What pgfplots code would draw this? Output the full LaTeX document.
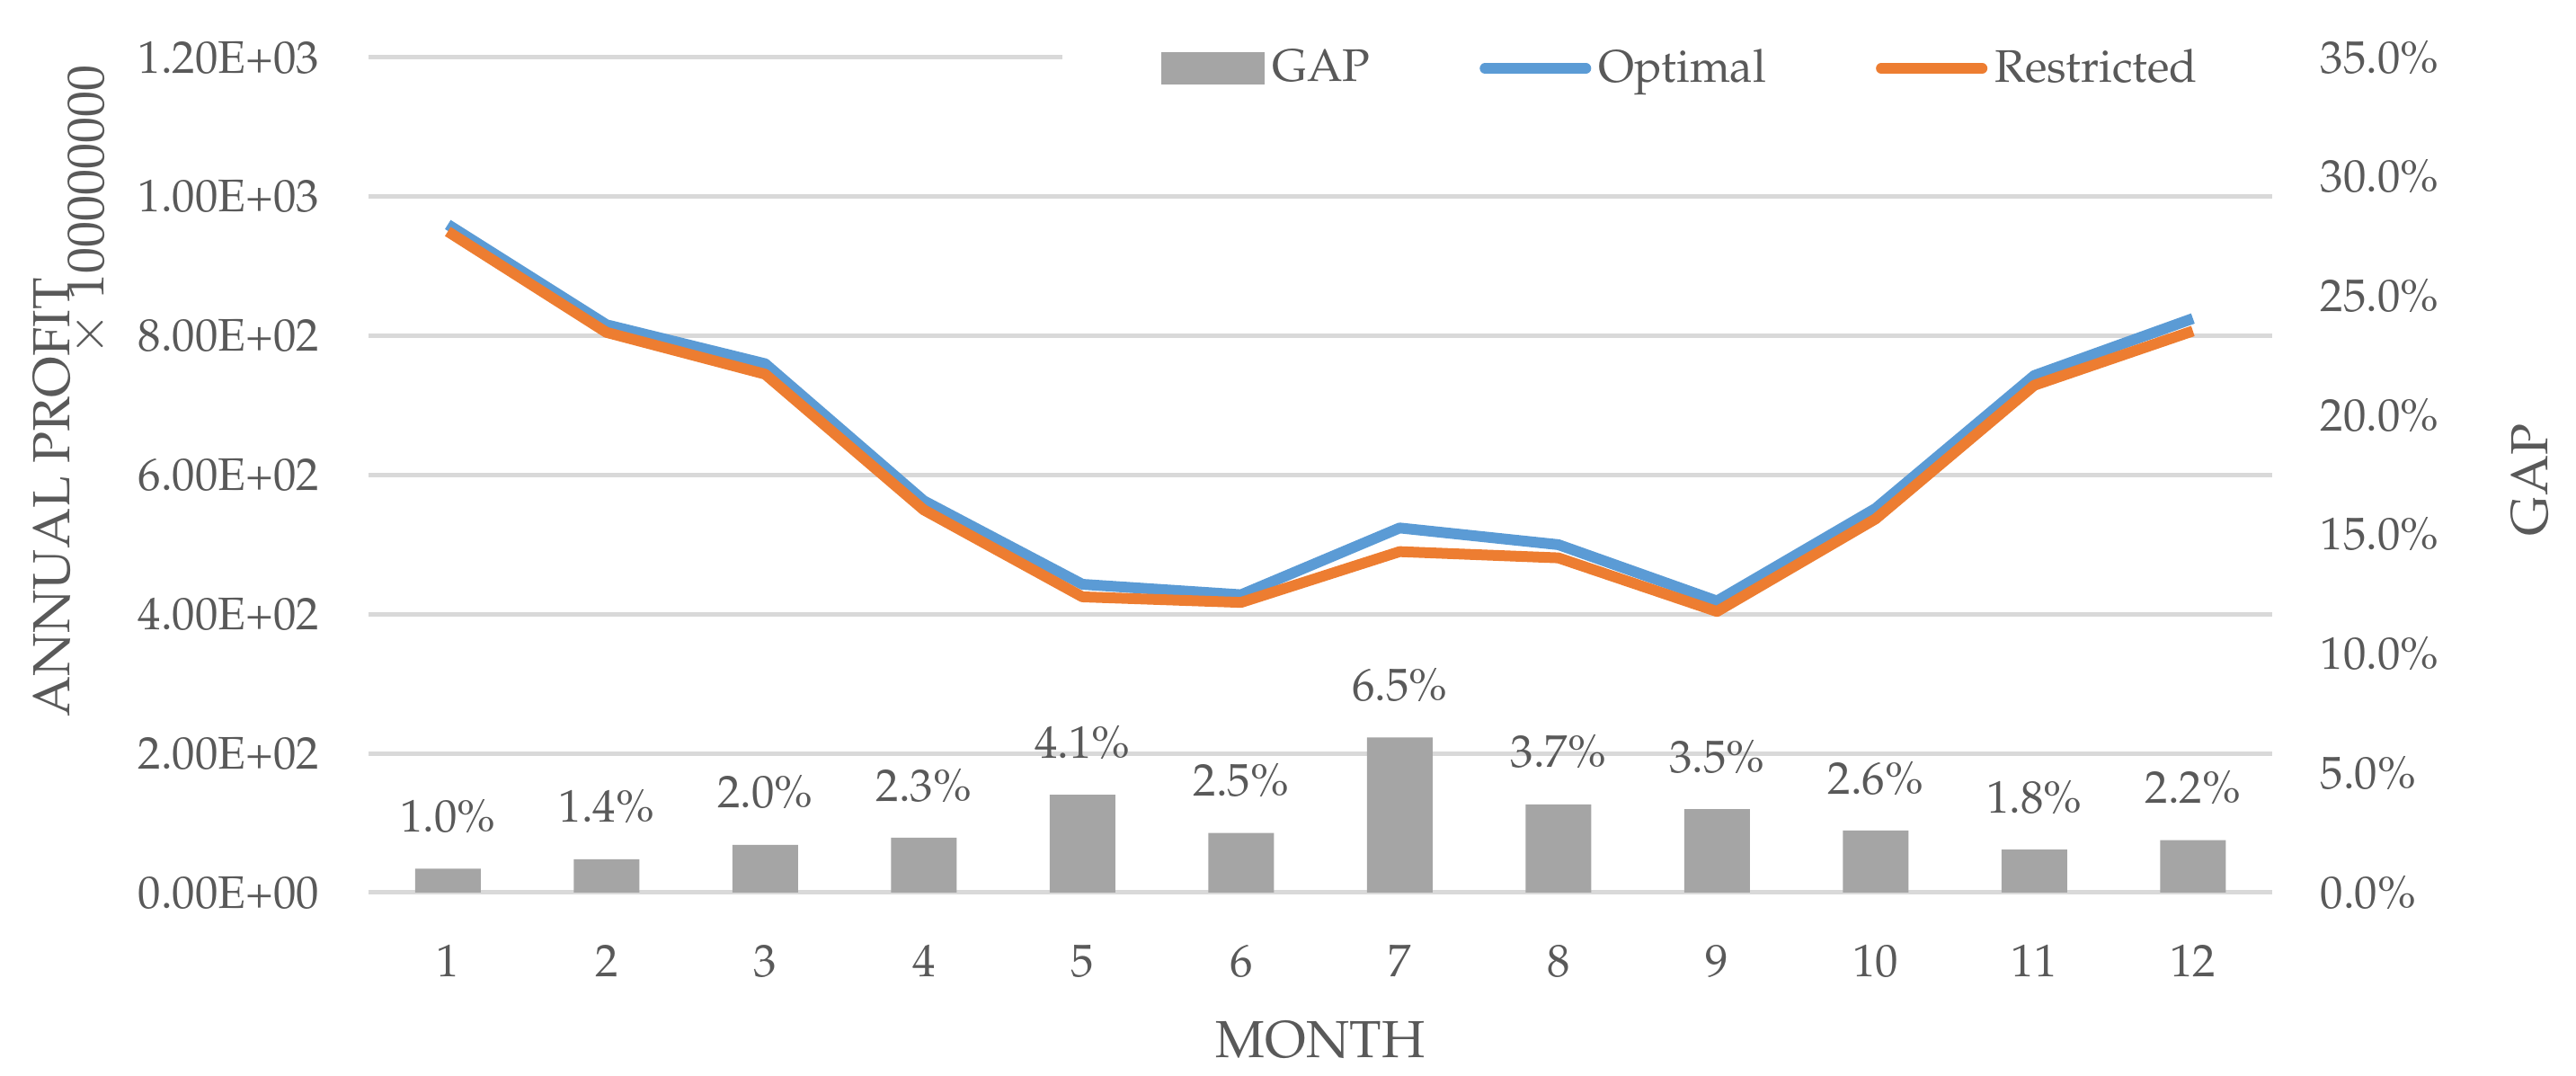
\documentclass[border=0pt]{standalone}
\usepackage[T1]{fontenc}
\usepackage{mathpazo}
\usepackage{pgfplots}
\pgfplotsset{compat=1.18}
\definecolor{barcol}{HTML}{A5A5A5}
\definecolor{bluecol}{HTML}{5B9BD5}
\definecolor{orangecol}{HTML}{ED7D31}
\definecolor{gridcol}{HTML}{D9D9D9}
\definecolor{txtcol}{HTML}{595959}
\newcommand{\tickfont}{\fontsize{12.7}{15}\selectfont}
\newcommand{\titlefont}{\fontsize{14.5}{17}\selectfont}
\pgfplotsset{
  lineleg/.style={legend image code/.code={\draw[##1, line cap=round] (0pt,0pt) -- (28pt,0pt);}},
  barleg/.style={legend image code/.code={\fill[barcol] (0pt,-4.25pt) rectangle (28.5pt,4.25pt);}},
}
\begin{document}
\begin{tikzpicture}[x=1pt,y=1pt]
\useasboundingbox (0,0) rectangle (716.5,299.25);
% left axis: profits (lines)
\begin{axis}[
  at={(102.5pt,51pt)}, anchor=south west,
  scale only axis, width=529.5pt, height=232.25pt,
  xmin=0.5, xmax=12.5, ymin=0, ymax=1200,
  xtick={1,2,3,4,5,6,7,8,9,10,11,12},
  xticklabels={1,2,3,4,5,6,7,8,9,10,11,12},
  ytick={0,200,400,600,800,1000,1200},
  yticklabels={0.00E+00,2.00E+02,4.00E+02,6.00E+02,8.00E+02,1.00E+03,1.20E+03},
  ymajorgrids, major grid style={draw=gridcol, line width=1.25pt},
  axis line style={draw=none}, major tick length=0pt,
  tick label style={text=txtcol, font=\tickfont, inner sep=0pt},
  yticklabel style={anchor=east, xshift=-13.5pt},
  xticklabel style={anchor=center, yshift=-19pt},
  legend style={at={(0.364,0.987)}, anchor=west, draw=none, fill=white,
    inner xsep=27.5pt, inner ysep=3pt, legend columns=-1, font=\tickfont,
    text=txtcol, nodes={inner sep=2pt},
    /tikz/every even column/.append style={column sep=28.5pt}},
  legend cell align=left,
]
\addlegendimage{barleg}
\addplot[color=bluecol, line width=3pt, line join=round, mark=none, lineleg]
  coordinates {(1,960) (2,816) (3,760) (4,563) (5,443) (6,428) (7,524) (8,500) (9,419) (10,552) (11,743) (12,825)};
\addplot[color=orangecol, line width=3pt, line join=round, mark=none, lineleg]
  coordinates {(1,950) (2,805) (3,745) (4,550) (5,425) (6,417) (7,490) (8,481) (9,404) (10,537) (11,729) (12,807)};
\legend{GAP,Optimal,Restricted}
\end{axis}
% right axis: GAP (bars)
\begin{axis}[
  at={(102.5pt,51pt)}, anchor=south west,
  scale only axis, width=529.5pt, height=232.25pt,
  xmin=0.5, xmax=12.5, ymin=0, ymax=35,
  hide x axis, axis y line*=right,
  ytick={0,5,10,15,20,25,30,35},
  yticklabels={0.0\%,5.0\%,10.0\%,15.0\%,20.0\%,25.0\%,30.0\%,35.0\%},
  axis line style={draw=none}, major tick length=0pt,
  tick label style={text=txtcol, font=\tickfont, inner sep=0pt},
  yticklabel style={anchor=west, xshift=13.25pt},
  ybar, bar width=18.25pt, clip=false,
  /pgf/number format/assume math mode=true,
  nodes near coords={\pgfmathprintnumber[fixed,fixed zerofill,precision=1]{\pgfplotspointmeta}\%},
  every node near coord/.append style={anchor=center, yshift=14.5pt, text=txtcol, font=\tickfont, inner sep=0pt},
]
\addplot[fill=barcol, draw=none]
  coordinates {(1,1.0) (2,1.4) (3,2.0) (4,2.3) (5,4.1) (6,2.5) (7,6.5) (8,3.7) (9,3.5) (10,2.6) (11,1.8) (12,2.2)};
\end{axis}
\node[rotate=90, text=txtcol, font=\titlefont, inner sep=0pt] at (14.6,160.9) {ANNUAL PROFIT};
\node[rotate=90, text=txtcol, font=\titlefont, inner sep=0pt] at (24.5,240.75) {$\times$ 100000000};
\node[text=txtcol, font=\titlefont, inner sep=0pt] at (367.25,10) {MONTH};
\node[rotate=90, text=txtcol, font=\titlefont, inner sep=0pt] at (703.75,165.75) {GAP};
\end{tikzpicture}
\end{document}
